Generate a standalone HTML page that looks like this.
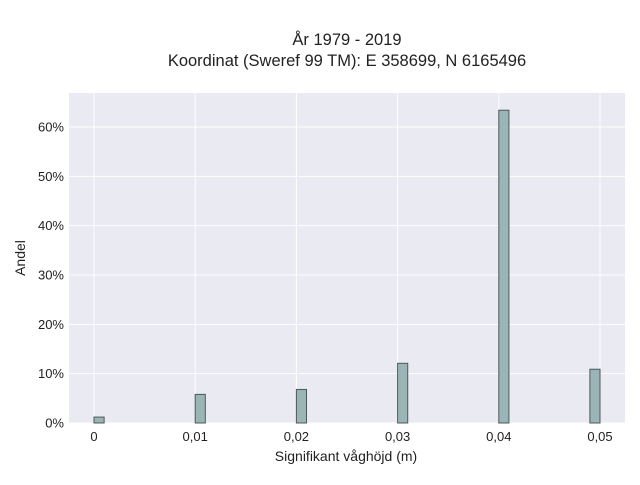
<!DOCTYPE html>
<html><head><meta charset="utf-8"><style>
body{margin:0;background:#fff;font-family:"Liberation Sans",sans-serif;}
svg text{font-family:"Liberation Sans",sans-serif;fill:#222;}
</style></head><body>
<svg id="chart" width="640" height="480">
<text x="347" y="45" text-anchor="middle" font-size="16.5">År 1979 - 2019</text>
<text x="347" y="66" text-anchor="middle" font-size="16.5">Koordinat (Sweref 99 TM): E 358699, N 6165496</text>
<rect x="69" y="93" width="556" height="330" fill="#eaeaf2"/>
<g id="grid"></g><g id="bars"></g><g id="ticks"></g>
<text x="346" y="461" text-anchor="middle" font-size="14">Signifikant våghöjd (m)</text>
<text x="25" y="258" text-anchor="middle" font-size="14" transform="rotate(-90 25 258)">Andel</text>
</svg>
<script>
const binStarts=[0,0.01,0.02,0.03,0.04,0.049];
const binWidths=[0.001,0.001,0.001,0.001,0.001,0.001];
const shares=[1.2,5.8,6.8,12.1,63.4,10.9];
const xTicks=[0,0.01,0.02,0.03,0.04,0.05];
const xTickLabels=["0","0,01","0,02","0,03","0,04","0,05"];
const yTicks=[0,10,20,30,40,50,60];
const yTickLabels=["0%","10%","20%","30%","40%","50%","60%"];
const NS="http://www.w3.org/2000/svg";
const x=v=>94+(v/0.05)*506;
const y=v=>423-v*(296/60);
const grid=document.getElementById('grid'),bars=document.getElementById('bars'),ticks=document.getElementById('ticks');
function mk(tag,attrs,parent){const e=document.createElementNS(NS,tag);for(const k in attrs)e.setAttribute(k,attrs[k]);parent.appendChild(e);return e;}
xTicks.forEach((t,i)=>{
 const l=mk('line',{x1:x(t),x2:x(t),y1:93,y2:423,stroke:'#fff','stroke-width':1},grid);
 
 
 const tx=mk('text',{x:x(t),y:441,'text-anchor':'middle','font-size':13},ticks);
 tx.textContent=xTickLabels[i];
 
 
});
yTicks.forEach((t,i)=>{
 const l=mk('line',{x1:69,x2:625,y1:y(t),y2:y(t),stroke:'#fff','stroke-width':1},grid);
 
 
 const tx=mk('text',{x:64,y:y(t)+4.5,'text-anchor':'end','font-size':13},ticks);
 tx.textContent=yTickLabels[i];
 
 
});
binStarts.forEach((b,i)=>{
 const r=mk('rect',{x:x(b),y:y(shares[i]),width:x(b+binWidths[i])-x(b),height:y(0)-y(shares[i]),fill:'#9bb5b6',stroke:'#4d5959','stroke-width':1},bars);
 
 
});
</script>
</body></html>
